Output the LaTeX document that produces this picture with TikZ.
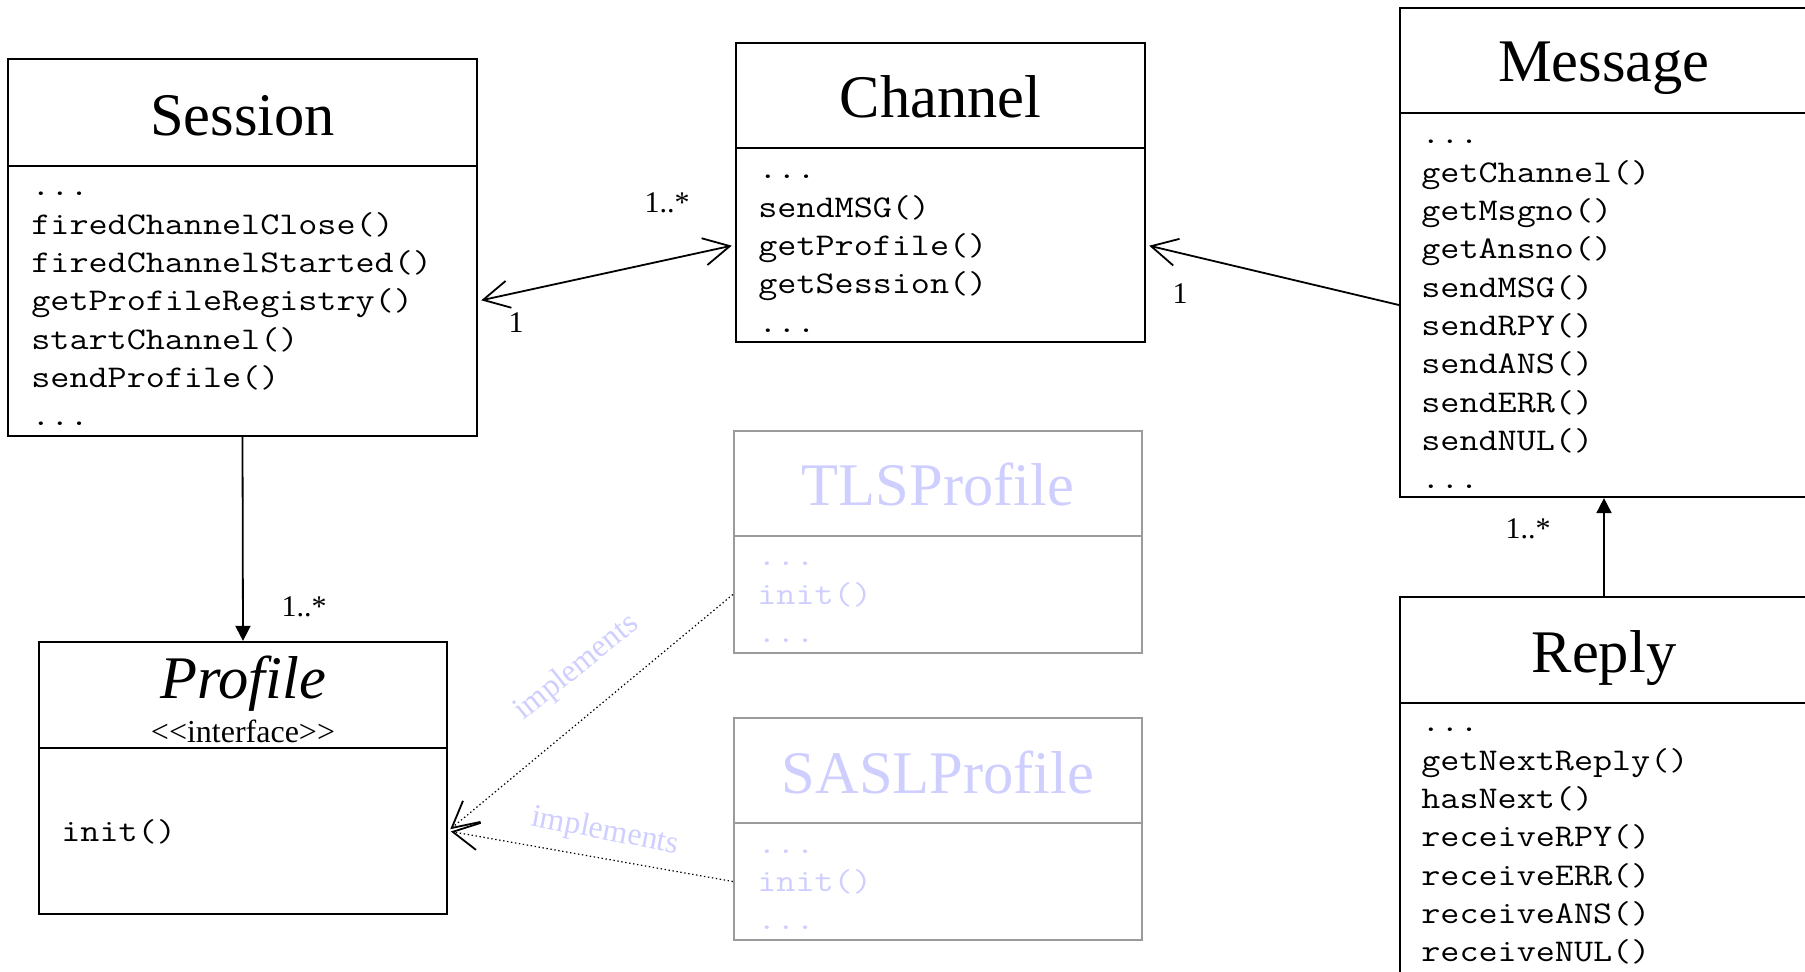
\documentclass[tikz,border=0pt]{standalone}
\usepackage{fontspec}
\setmainfont{Liberation Serif}
\setmonofont[FakeStretch=1.172]{Latin Modern Mono}
\usetikzlibrary{arrows.meta,fit}

\definecolor{ghostgray}{RGB}{155,155,155}
\definecolor{ghosttext}{RGB}{206,206,255}
\newcommand{\threedots}{...}

\tikzset{
  box/.style={draw=black, line width=1.1pt, inner sep=0pt},
  ghostbox/.style={draw=ghostgray, line width=1.1pt, inner sep=0pt},
  classname/.style={font=\fontsize{30.25pt}{36pt}\selectfont, anchor=base, inner sep=0pt},
  member/.style={font=\fontsize{15.8pt}{19pt}\ttfamily, anchor=base west, inner sep=0pt},
  mult/.style={font=\fontsize{15pt}{18pt}\selectfont, anchor=base, inner sep=0pt},
  implabel/.style={font=\fontsize{16pt}{19pt}\selectfont, text=ghosttext, inner sep=0pt},
  assoc/.style={line width=0.9pt},
  realize/.style={line width=0.6pt, dash pattern=on 0.7pt off 1.3pt},
  barb/.tip={Straight Barb[length=13pt,width=13.7pt,line width=0.9pt]},
  solidhead/.tip={Triangle[length=7.5pt,width=7.5pt]}
}

\begin{document}
\begin{tikzpicture}[x=0.5pt,y=-0.5pt]
\clip (0,0) rectangle (1805,972);

% ---------- Session ----------
\node[box, fit={(8,59) (477,166)}] (sessT) {};
\node[box, fit={(8,166) (477,436)}] (sessB) {};
\node[classname] (sessN) at (242.5,136) {Session};
\foreach \t [count=\i from 0] in {\threedots,firedChannelClose(),firedChannelStarted(),getProfileRegistry(),startChannel(),sendProfile(),\threedots}
  \node[member] (sess-\i) at (31,{196+\i*38.3}) {\t};

% ---------- Channel ----------
\node[box, fit={(736,43) (1145,148)}] (chanT) {};
\node[box, fit={(736,148) (1145,342)}] (chanB) {};
\node[classname] (chanN) at (940.5,118) {Channel};
\foreach \t [count=\i from 0] in {\threedots,sendMSG(),getProfile(),getSession(),\threedots}
  \node[member] (chan-\i) at (758,{179+\i*38.3}) {\t};

% ---------- Message ----------
\node[box, fit={(1400,8) (1808,113)}] (msgT) {};
\node[box, fit={(1400,113) (1808,497)}] (msgB) {};
\node[classname] (msgN) at (1604,82) {Message};
\foreach \t [count=\i from 0] in {\threedots,getChannel(),getMsgno(),getAnsno(),sendMSG(),sendRPY(),sendANS(),sendERR(),sendNUL(),\threedots}
  \node[member] (msg-\i) at (1421,{144+\i*38.3}) {\t};

% ---------- Reply ----------
\node[box, fit={(1400,597) (1808,703)}] (replyT) {};
\node[box, fit={(1400,703) (1808,978)}] (replyB) {};
\node[classname] (replyN) at (1604,673) {Reply};
\foreach \t [count=\i from 0] in {\threedots,getNextReply(),hasNext(),receiveRPY(),receiveERR(),receiveANS(),receiveNUL()}
  \node[member] (reply-\i) at (1421,{732+\i*38.3}) {\t};

% ---------- Profile (interface) ----------
\node[box, fit={(39,642) (447,748)}] (profT) {};
\node[box, fit={(39,748) (447,914)}] (profB) {};
\node[classname, font=\fontsize{30.25pt}{36pt}\itshape] (profN) at (243,698) {Profile};
\node[mult, font=\fontsize{16pt}{19pt}\selectfont] (profS) at (243,742)
  {\mbox{<}\mbox{<}interface\mbox{>}\mbox{>}};
\node[member] (prof-0) at (61,841) {init()};

% ---------- TLSProfile ----------
\node[ghostbox, fit={(734,431) (1142,536)}] (tlsT) {};
\node[ghostbox, fit={(734,536) (1142,653)}] (tlsB) {};
\node[classname, text=ghosttext] (tlsN) at (938,506) {TLSProfile};
\foreach \t [count=\i from 0] in {\threedots,init(),\threedots}
  \node[member, text=ghosttext] (tls-\i) at (757,{566+\i*38.3}) {\t};

% ---------- SASLProfile ----------
\node[ghostbox, fit={(734,718) (1142,823)}] (saslT) {};
\node[ghostbox, fit={(734,823) (1142,940)}] (saslB) {};
\node[classname, text=ghosttext] (saslN) at (938,793) {SASLProfile};
\foreach \t [count=\i from 0] in {\threedots,init(),\threedots}
  \node[member, text=ghosttext] (sasl-\i) at (757,{853+\i*38.3}) {\t};

% ---------- Associations ----------
\draw[assoc, barb-barb, shorten <=1.6pt, shorten >=1.6pt] (sessB.east) -- (chanB.west);
\node[mult] (m1) at (667,213) {1..*};
\node[mult] (m2) at (516,333) {1};

\draw[assoc, -barb, shorten >=1.6pt] (msgB.west) -- (chanB.east);
\node[mult] (m3) at (1180,304) {1};

\draw[assoc, -solidhead] (sessB.south) -- (profT.north);
\node[mult] (m4) at (304,617) {1..*};

\draw[assoc, -solidhead] (replyT.north) -- (msgB.south);
\node[mult] (m5) at (1528,539) {1..*};

% ---------- Realizations ----------
\draw[realize, -barb, shorten >=1.4pt] (tlsB.west) -- (profB.east);
\draw[realize, -barb, shorten >=1.4pt] (saslB.west) -- (profB.east);
\node[implabel, rotate=39] (imp1) at (577,668) {implements};
\node[implabel, rotate=-11] (imp2) at (605,832) {implements};
\end{tikzpicture}
\end{document}
